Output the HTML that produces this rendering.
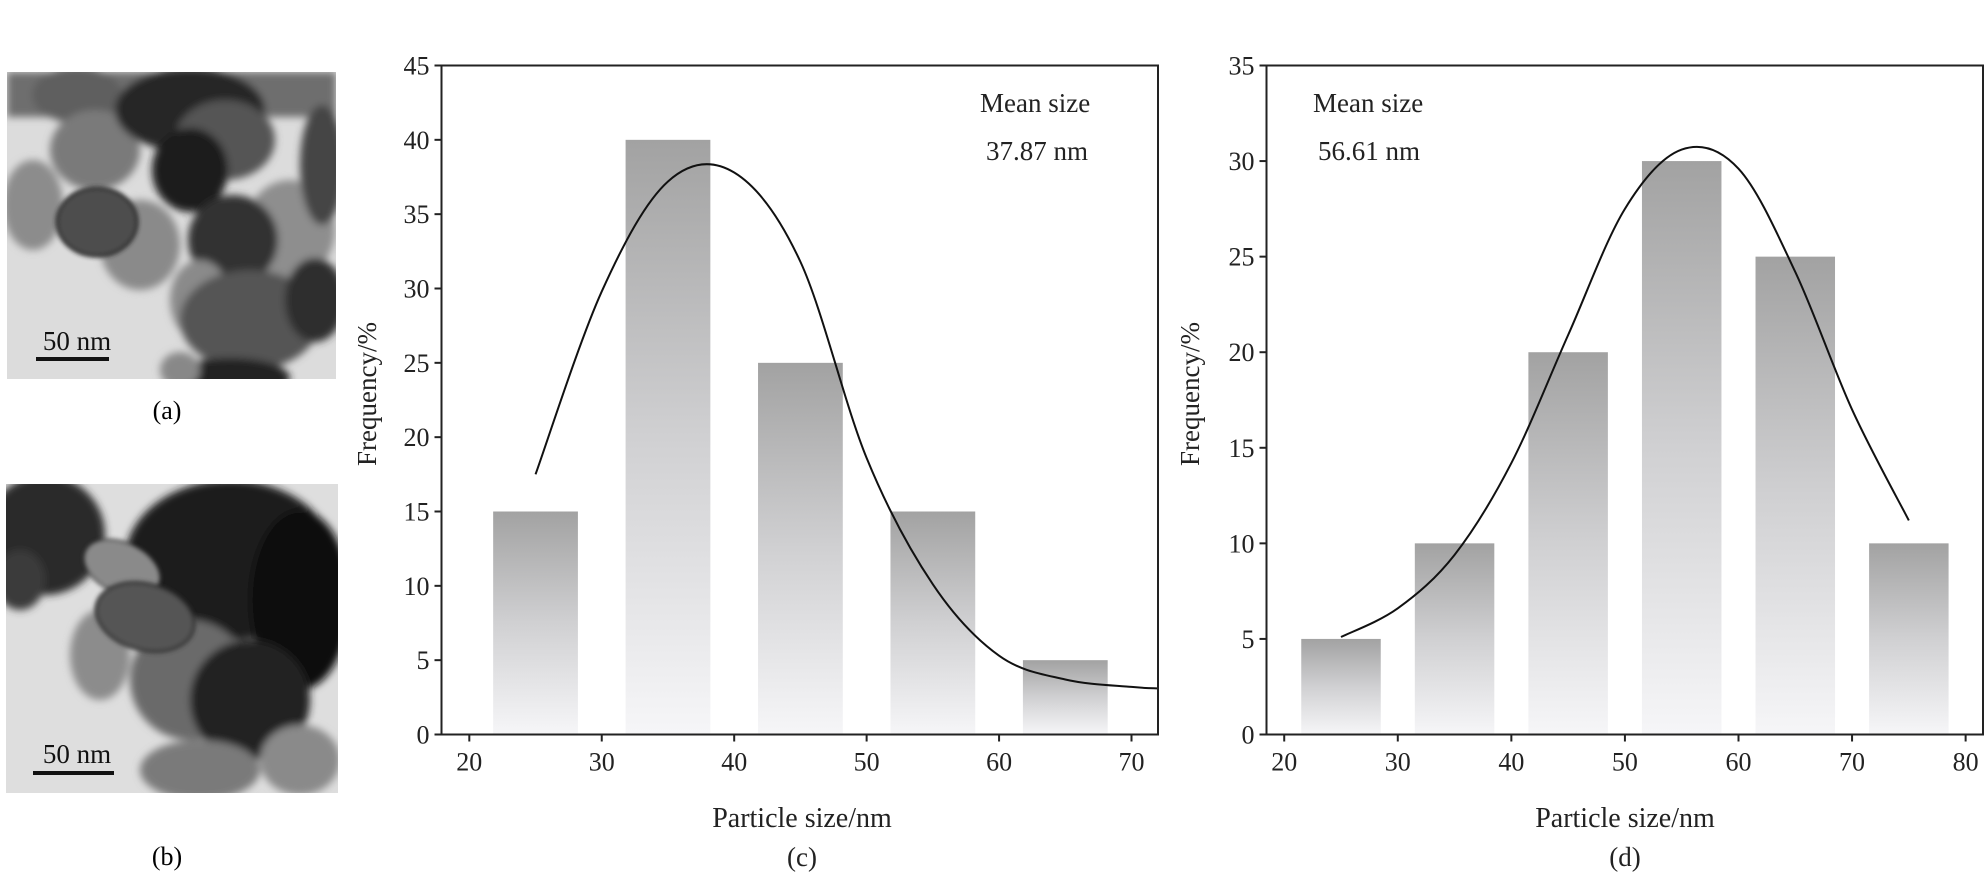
<!DOCTYPE html>
<html><head><meta charset="utf-8"><style>
html,body{margin:0;padding:0;background:#fff;}
svg{display:block;font-family:"Liberation Serif",serif;}
</style></head><body>
<svg id="fig" width="1988" height="890" viewBox="0 0 1988 890" xmlns="http://www.w3.org/2000/svg">
<defs>
<linearGradient id="barGrad" x1="0" y1="0" x2="0" y2="1">
<stop offset="0" stop-color="#a2a2a2"/><stop offset="0.5" stop-color="#d0d0d2"/><stop offset="1" stop-color="#f6f6f8"/>
</linearGradient>
<filter id="blur4"><feGaussianBlur stdDeviation="4"/></filter>
<filter id="blur2"><feGaussianBlur stdDeviation="2"/></filter>
<clipPath id="clipA"><rect x="7" y="72" width="329" height="307"/></clipPath>
<clipPath id="clipB"><rect x="6" y="484" width="332" height="309"/></clipPath>
</defs>

<!-- TEM image (a) -->
<g clip-path="url(#clipA)">
<rect x="7" y="72" width="329" height="307" fill="#dcdcdc"/>
<g filter="url(#blur4)">
<rect x="7" y="72" width="329" height="45" fill="#6e6e6e"/>
<ellipse cx="33" cy="205" rx="30" ry="45" fill="#8c8c8c"/>
<ellipse cx="77" cy="95" rx="45" ry="28" fill="#5f5f5f"/>
<ellipse cx="95" cy="150" rx="45" ry="40" fill="#7a7a7a"/>
<ellipse cx="140" cy="245" rx="40" ry="45" fill="#8a8a8a"/>
<ellipse cx="190" cy="110" rx="75" ry="42" fill="#262626"/>
<ellipse cx="225" cy="140" rx="50" ry="40" fill="#555"/>
<ellipse cx="190" cy="170" rx="38" ry="42" fill="#1e1e1e"/>
<ellipse cx="290" cy="230" rx="45" ry="50" fill="#8e8e8e"/>
<ellipse cx="233" cy="240" rx="45" ry="45" fill="#333"/>
<ellipse cx="200" cy="300" rx="30" ry="40" fill="#8a8a8a"/>
<ellipse cx="250" cy="320" rx="70" ry="50" fill="#555"/>
<ellipse cx="315" cy="300" rx="30" ry="42" fill="#2e2e2e"/>
<ellipse cx="322" cy="165" rx="22" ry="60" fill="#444"/>
<ellipse cx="230" cy="378" rx="60" ry="20" fill="#222"/>
<ellipse cx="180" cy="370" rx="20" ry="18" fill="#888"/>
</g>
<ellipse cx="97" cy="222" rx="40" ry="34" fill="#4e4e4e" stroke="#222" stroke-width="3" filter="url(#blur2)"/>
</g>
<g>
<rect x="36" y="357" width="73" height="4" fill="#111"/>
<text x="77" y="350" font-size="27" text-anchor="middle" fill="#111">50 nm</text>
</g>
<text x="167" y="419" font-size="26" text-anchor="middle">(a)</text>

<!-- TEM image (b) -->
<g clip-path="url(#clipB)">
<rect x="6" y="484" width="332" height="309" fill="#dedede"/>
<g filter="url(#blur4)">
<ellipse cx="45" cy="535" rx="60" ry="60" fill="#2a2a2a"/>
<ellipse cx="20" cy="580" rx="25" ry="30" fill="#3a3a3a"/>
<ellipse cx="100" cy="655" rx="30" ry="45" fill="#8c8c8c"/>
<ellipse cx="230" cy="560" rx="105" ry="80" fill="#1a1a1a"/>
<ellipse cx="300" cy="600" rx="50" ry="90" fill="#111"/>
<ellipse cx="190" cy="680" rx="60" ry="60" fill="#6a6a6a"/>
<ellipse cx="250" cy="700" rx="60" ry="60" fill="#222"/>
<ellipse cx="200" cy="770" rx="60" ry="30" fill="#7a7a7a"/>
<ellipse cx="300" cy="760" rx="40" ry="35" fill="#8a8a8a"/>
</g>
<ellipse cx="122" cy="568" rx="40" ry="25" fill="#8a8a8a" stroke="#333" stroke-width="2" transform="rotate(25 122 568)" filter="url(#blur2)"/>
<ellipse cx="145" cy="617" rx="50" ry="33" fill="#555" stroke="#333" stroke-width="3" transform="rotate(15 145 617)" filter="url(#blur2)"/>
</g>
<g>
<rect x="33" y="771" width="81" height="4" fill="#111"/>
<text x="77" y="763" font-size="27" text-anchor="middle" fill="#111">50 nm</text>
</g>
<text x="167" y="865" font-size="26" text-anchor="middle">(b)</text>

<g id="chartC"></g>
<g id="chartD"></g>
</svg>
<script>
// Chart (c) data
const catsC = [25, 35, 45, 55, 65];
const valsC = [15, 40, 25, 15, 5];
const fitXC = [25, 30, 35, 40, 45, 50, 55, 60, 65, 70, 72];
const fitYC = [17.5, 29.8, 37.2, 37.8, 31.8, 18.6, 10.1, 5.3, 3.7, 3.2, 3.1];
const yTicksC = [0, 5, 10, 15, 20, 25, 30, 35, 40, 45];
const xTicksC = [20, 30, 40, 50, 60, 70];
// Chart (d) data
const catsD = [25, 35, 45, 55, 65, 75];
const valsD = [5, 10, 20, 30, 25, 10];
const fitXD = [25, 30, 35, 40, 45, 50, 55, 60, 65, 70, 75];
const fitYD = [5.1, 6.6, 9.4, 14.2, 20.9, 27.5, 30.6, 29.6, 24.2, 17, 11.2];
const yTicksD = [0, 5, 10, 15, 20, 25, 30, 35];
const xTicksD = [20, 30, 40, 50, 60, 70, 80];

const NS = 'http://www.w3.org/2000/svg';
function mk(parent, tag, attrs, text) {
  const e = document.createElementNS(NS, tag);
  for (const k in attrs) e.setAttribute(k, attrs[k]);
  if (text !== undefined) e.textContent = text;
  parent.appendChild(e);
  return e;
}
function smoothPath(pts) {
  let d = 'M' + pts[0][0] + ',' + pts[0][1];
  for (let i = 0; i < pts.length - 1; i++) {
    const p0 = pts[i - 1] || pts[i], p1 = pts[i], p2 = pts[i + 1], p3 = pts[i + 2] || p2;
    const c1x = p1[0] + (p2[0] - p0[0]) / 6, c1y = p1[1] + (p2[1] - p0[1]) / 6;
    const c2x = p2[0] - (p3[0] - p1[0]) / 6, c2y = p2[1] - (p3[1] - p1[1]) / 6;
    d += ' C' + c1x + ',' + c1y + ' ' + c2x + ',' + c2y + ' ' + p2[0] + ',' + p2[1];
  }
  return d;
}
function drawChart(g, o) {
  const X = v => o.L + (v - o.x0) / (o.x1 - o.x0) * (o.R - o.L);
  const Y = v => o.B - (v - o.y0) / (o.y1 - o.y0) * (o.B - o.T);
  o.cats.forEach((c, i) => {
    const r = mk(g, 'rect', {x: X(c - o.hw), y: Y(o.vals[i]), width: X(c + o.hw) - X(c - o.hw), height: Y(0) - Y(o.vals[i]), fill: 'url(#barGrad)'});
    
    
  });
  const pts = o.fx.map((x, i) => [X(x), Y(o.fy[i])]);
  const fit = mk(g, 'path', {d: smoothPath(pts), fill: 'none', stroke: '#111', 'stroke-width': 2});
  
  
  const frame = mk(g, 'rect', {x: o.L, y: o.T, width: o.R - o.L, height: o.B - o.T, fill: 'none', stroke: '#222', 'stroke-width': 2});
  
  
  o.yt.forEach(v => {
    mk(g, 'line', {x1: o.L - 7, x2: o.L, y1: Y(v), y2: Y(v), stroke: '#222', 'stroke-width': 2});
    const t = mk(g, 'text', {x: o.L - 12, y: Y(v) + 9, 'font-size': 26, 'text-anchor': 'end', fill: '#222'}, String(v));
    
    
  });
  o.xt.forEach(v => {
    mk(g, 'line', {x1: X(v), x2: X(v), y1: o.B, y2: o.B + 7, stroke: '#222', 'stroke-width': 2});
    const t = mk(g, 'text', {x: X(v), y: o.B + 36, 'font-size': 26, 'text-anchor': 'middle', fill: '#222'}, String(v));
    
    
  });
  const xt = mk(g, 'text', {x: o.xc, y: 827, 'font-size': 28, 'text-anchor': 'middle', fill: '#222'}, 'Particle size/nm');
  
  
  const pl = mk(g, 'text', {x: o.xc, y: 866, 'font-size': 27, 'text-anchor': 'middle', fill: '#222'}, o.label);
  
  
  const yt = mk(g, 'text', {x: o.ytx, y: 394, 'font-size': 27, 'text-anchor': 'middle', fill: '#222', transform: 'rotate(-90 ' + o.ytx + ' 394)'}, 'Frequency/%');
  
  
  const m1 = mk(g, 'text', {x: o.mx, y: 112, 'font-size': 27, fill: '#222'}, 'Mean size');
  
  
  const m2 = mk(g, 'text', {x: o.mx + o.mdx, y: 160, 'font-size': 27, fill: '#222'}, o.mean);
  
  
}
drawChart(document.getElementById('chartC'), {
  L: 441.5, R: 1158, T: 65.5, B: 734.5, x0: 17.9, x1: 72.0, y0: 0, y1: 45, hw: 3.2,
  cats: catsC, vals: valsC, fx: fitXC, fy: fitYC, yt: yTicksC, xt: xTicksC,
  xc: 802, ytx: 376, label: '(c)', mx: 980, mdx: 6, mean: '37.87 nm'
});
drawChart(document.getElementById('chartD'), {
  L: 1266.5, R: 1983, T: 65.5, B: 734.5, x0: 18.44, x1: 81.53, y0: 0, y1: 35, hw: 3.5,
  cats: catsD, vals: valsD, fx: fitXD, fy: fitYD, yt: yTicksD, xt: xTicksD,
  xc: 1625, ytx: 1199, label: '(d)', mx: 1313, mdx: 5, mean: '56.61 nm'
});
</script>
</body></html>
